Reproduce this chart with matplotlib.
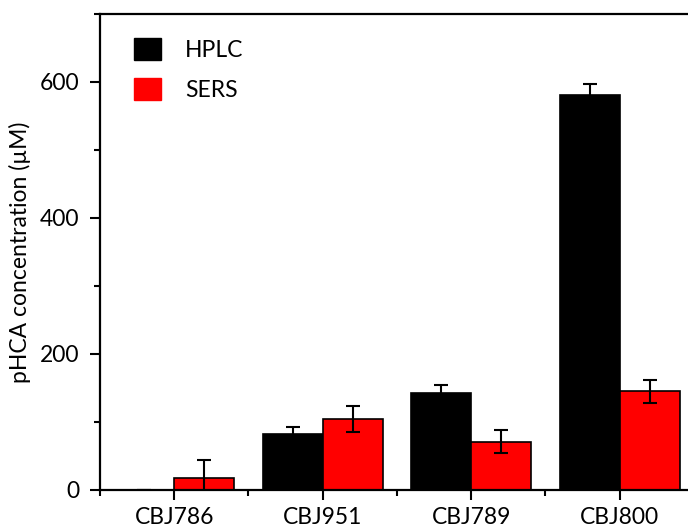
import numpy as np
import matplotlib
matplotlib.use('Agg')
import matplotlib.pyplot as plt
from matplotlib.patches import Patch
from matplotlib.ticker import MultipleLocator, FixedLocator

# 数据
strains = ['CBJ786', 'CBJ951', 'CBJ789', 'CBJ800']
hplc = [0, 82, 143, 581]
hplc_err = [0, 10, 11, 16]
sers = [17, 104, 71, 145]
sers_err = [27, 19, 17, 17]

plt.rcParams['font.family'] = ['Lato', 'DejaVu Sans']
plt.rcParams['font.size'] = 16.5

fig = plt.figure(figsize=(6.88, 5.30), dpi=100)
ax = fig.add_axes([0.1453, 0.0755, 0.8634, 0.8981])

x = np.arange(len(strains))
w = 0.404
err_kw = dict(ecolor='black', elinewidth=1.5, capsize=5, capthick=1.5)
ax.bar(x - w / 2, hplc, w, yerr=hplc_err, color='black', edgecolor='black',
       linewidth=1.2, error_kw=err_kw, label='HPLC')
ax.bar(x + w / 2, sers, w, yerr=sers_err, color='#ff0000', edgecolor='black',
       linewidth=1.2, error_kw=err_kw, label='SERS')

ax.set_xlim(-0.5, 3.5)
ax.set_ylim(0, 700)
ax.set_xticks(x)
ax.set_xticklabels(strains)
ax.xaxis.set_minor_locator(FixedLocator(np.arange(-0.5, 4.0, 1.0)))
ax.yaxis.set_major_locator(FixedLocator([0, 200, 400, 600]))
ax.yaxis.set_minor_locator(MultipleLocator(100))
ax.set_ylabel('pHCA concentration (µM)', labelpad=6)

for s in ax.spines.values():
    s.set_linewidth(1.6)
ax.tick_params(which='major', direction='out', length=7, width=1.5, pad=8)
ax.tick_params(which='minor', direction='out', length=4, width=1.5)
ax.tick_params(axis='x', which='major', pad=5)

handles = [Patch(facecolor='black', edgecolor='black'),
           Patch(facecolor='#ff0000', edgecolor='#ff0000')]
ax.legend(handles, ['HPLC', 'SERS'], loc='upper left', bbox_to_anchor=(0.058, 0.95),
          frameon=False, borderpad=0, borderaxespad=0, handlelength=1.15,
          handleheight=1.1, handletextpad=1.05, labelspacing=0.75)

plt.savefig('out.png', dpi=100)
